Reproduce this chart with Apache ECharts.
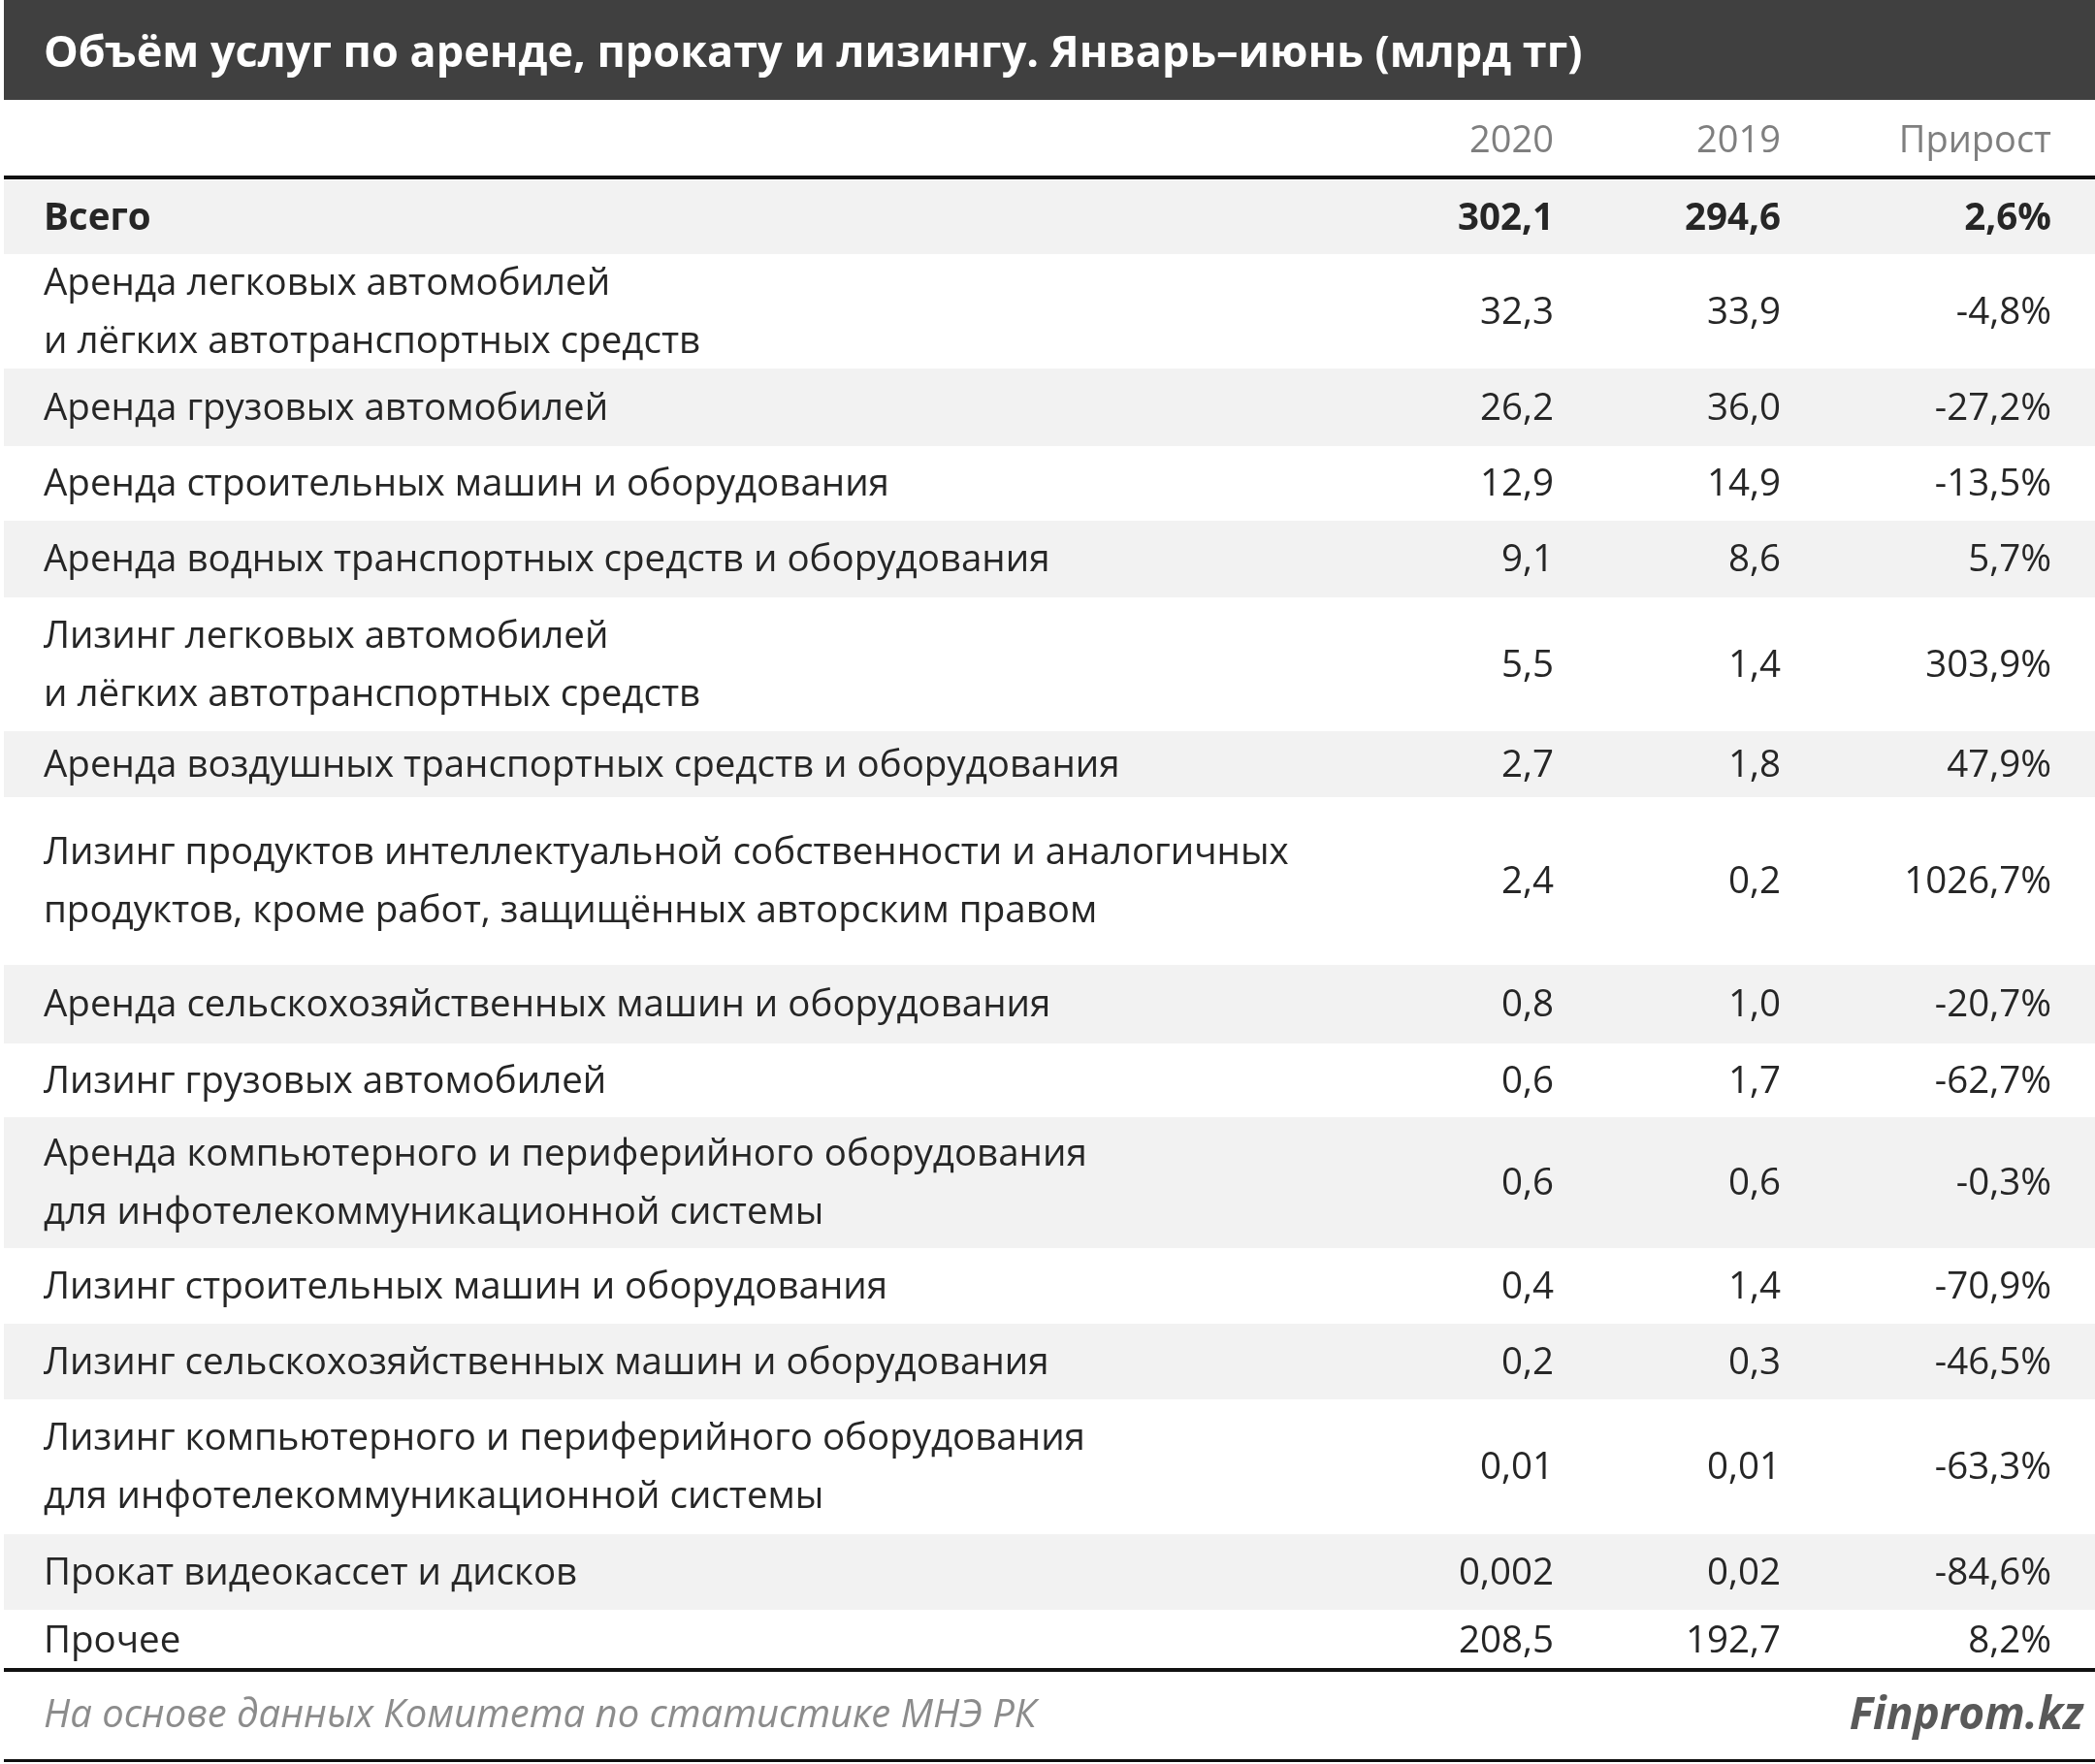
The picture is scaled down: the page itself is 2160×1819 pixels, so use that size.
<!DOCTYPE html>
<html><head><meta charset="utf-8">
<script src="https://cdn.jsdelivr.net/npm/echarts@6/dist/echarts.min.js"></script>
<style>html,body{margin:0;background:#fff}#c{width:2160px;height:1819px}</style></head>
<body><div id="c"></div>
<script>
const title = "Объём услуг по аренде, прокату и лизингу. Январь–июнь (млрд тг)";
const headers = ["2020", "2019", "Прирост"];
const categories = [
 "Всего",
 "Аренда легковых автомобилей\nи лёгких автотранспортных средств",
 "Аренда грузовых автомобилей",
 "Аренда строительных машин и оборудования",
 "Аренда водных транспортных средств и оборудования",
 "Лизинг легковых автомобилей\nи лёгких автотранспортных средств",
 "Аренда воздушных транспортных средств и оборудования",
 "Лизинг продуктов интеллектуальной собственности и аналогичных\nпродуктов, кроме работ, защищённых авторским правом",
 "Аренда сельскохозяйственных машин и оборудования",
 "Лизинг грузовых автомобилей",
 "Аренда компьютерного и периферийного оборудования\nдля инфотелекоммуникационной системы",
 "Лизинг строительных машин и оборудования",
 "Лизинг сельскохозяйственных машин и оборудования",
 "Лизинг компьютерного и периферийного оборудования\nдля инфотелекоммуникационной системы",
 "Прокат видеокассет и дисков",
 "Прочее"
];
const values2020 = ["302,1","32,3","26,2","12,9","9,1","5,5","2,7","2,4","0,8","0,6","0,6","0,4","0,2","0,01","0,002","208,5"];
const values2019 = ["294,6","33,9","36,0","14,9","8,6","1,4","1,8","0,2","1,0","1,7","0,6","1,4","0,3","0,01","0,02","192,7"];
const growth = ["2,6%","-4,8%","-27,2%","-13,5%","5,7%","303,9%","47,9%","1026,7%","-20,7%","-62,7%","-0,3%","-70,9%","-46,5%","-63,3%","-84,6%","8,2%"];
const source = "На основе данных Комитета по статистике МНЭ РК";
const brand = "Finprom.kz";

const FONT = "Open Sans";
const bounds = [186,262,380,460,537,616,754,822,995,1076,1152,1287,1365,1443,1582,1660,1722];
const colX = [1602,1836,2115];
const els = [];
els.push({type:'rect',shape:{x:4,y:0,width:2156,height:103},style:{fill:'#404040'}});
els.push({type:'text',x:45,y:56,style:{text:title,fill:'#fff',font:`bold 45px "${FONT}"`,textVerticalAlign:'middle'}});
headers.forEach((h,i)=>els.push({type:'text',x:colX[i],y:146,style:{text:h,fill:'#7f7f7f',font:`38px "${FONT}"`,textAlign:'right',textVerticalAlign:'middle'}}));
categories.forEach((c,i)=>{
  const y0=bounds[i], y1=bounds[i+1], ym=(y0+y1)/2+2;
  if(i%2===0) els.push({type:'rect',shape:{x:4,y:y0,width:2156,height:y1-y0},style:{fill:'#f2f2f2'}});
  const f = (i===0?'bold ':'')+`38.5px "${FONT}"`;
  els.push({type:'text',x:45,y:ym,style:{text:c,fill:'#262626',font:f,lineHeight:60,textVerticalAlign:'middle'}});
  [values2020[i],values2019[i],growth[i]].forEach((v,j)=>els.push({type:'text',x:colX[j],y:ym,style:{text:v,fill:'#262626',font:f,textAlign:'right',textVerticalAlign:'middle'}}));
});
els.push({type:'rect',shape:{x:4,y:181,width:2156,height:4},style:{fill:'#111'}});
els.push({type:'rect',shape:{x:4,y:1720,width:2156,height:4},style:{fill:'#111'}});
els.push({type:'rect',shape:{x:4,y:1814,width:2156,height:3},style:{fill:'#111'}});
els.push({type:'text',x:45,y:1770,style:{text:source,fill:'#8c8c8c',font:`italic 40px "${FONT}"`,textVerticalAlign:'middle'}});
els.push({type:'text',x:2148,y:1770,style:{text:brand,fill:'#595959',font:`bold italic 46px "${FONT}"`,textAlign:'right',textVerticalAlign:'middle'}});
const chart = echarts.init(document.getElementById('c'));
chart.setOption({animation:false,graphic:{elements:els}});
</script></body></html>
